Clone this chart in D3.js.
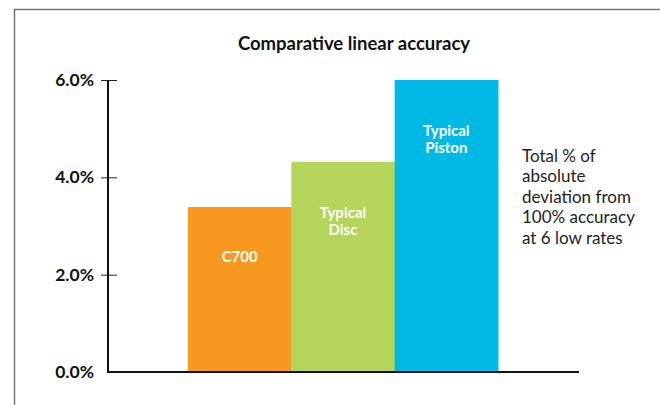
<!DOCTYPE html>
<html><head><meta charset="utf-8">
<script src="https://cdn.jsdelivr.net/npm/d3@7"></script>
<style>body{margin:0;background:#fff}svg{display:block}</style>
</head><body>
<script>
const categories = ["C700", "Typical Disc", "Typical Piston"];
const barLabels = [["C700"], ["Typical", "Disc"], ["Typical", "Piston"]];
const values = [3.39, 4.32, 6.0];
const colors = ["#F7991F", "#B5D55A", "#00BAE5"];
const tickValues = [0, 2, 4, 6];
const title = "Comparative linear accuracy";
const note = ["Total % of", "absolute", "deviation from", "100% accuracy", "at 6 low rates"];

const W = 660, H = 405;
const svg = d3.select("body").append("svg").attr("width", W).attr("height", H);

// frame
svg.append("path").attr("d", "M14.5,405 V9.5 H660").attr("fill", "none").attr("stroke", "#777").attr("stroke-width", 1.5);

const y = d3.scaleLinear().domain([0, 6]).range([372, 80]);
const x = d3.scaleBand().domain(categories).range([188, 498]).padding(0);

// bars
const g = svg.append("g");
g.selectAll("rect").data(categories).join("rect")
  .attr("x", d => x(d)).attr("width", x.bandwidth() + 0.5)
  .attr("y", (d, i) => y(values[i])).attr("height", (d, i) => y(0) - y(values[i]))
  .attr("fill", (d, i) => colors[i]);

// bar labels
const labelY = [262, 218, 136];
categories.forEach((c, i) => {
  barLabels[i].forEach((s, j) => g.append("text").attr("text-anchor", "middle")
    .attr("font-family", "Lato, sans-serif").attr("font-weight", "bold").attr("font-size", 15)
    .attr("fill", "#fff").attr("x", x(c) + x.bandwidth() / 2).attr("y", labelY[i] + j * 17).text(s));
});

// y axis
const ax = d3.axisLeft(y).tickValues(tickValues).tickFormat(d => d3.format(".1f")(d) + "%").tickSize(7).tickPadding(7);
const ag = svg.append("g").attr("transform", "translate(108,0)").call(ax);
ag.select(".domain").remove();
ag.selectAll(".tick line").attr("x2", 9).attr("x1", -7).attr("stroke", "#222").attr("stroke-width", 1)
  .filter(d => d === 0).remove();
ag.selectAll(".tick text").attr("font-family", "Lato, sans-serif").attr("font-weight", "bold")
  .attr("font-size", 17.5).attr("fill", "#111");
svg.append("line").attr("x1", 108).attr("x2", 108).attr("y1", 80).attr("y2", 373)
  .attr("stroke", "#111").attr("stroke-width", 2);
// x axis
svg.append("line").attr("x1", 107).attr("x2", 579).attr("y1", y(0)).attr("y2", y(0))
  .attr("stroke", "#111").attr("stroke-width", 2.2);

// title
svg.append("text").attr("x", 354).attr("y", 50).attr("text-anchor", "middle")
  .attr("font-family", "Lato, sans-serif").attr("font-weight", "bold").attr("font-size", 18.5)
  .attr("fill", "#111").text(title);

// note
const nt = svg.append("text").attr("font-family", "Lato, sans-serif").attr("font-size", 17).attr("fill", "#222");
note.forEach((s, i) => nt.append("tspan").attr("x", 522).attr("y", 162 + i * 20.4).text(s));
</script>
</body></html>
